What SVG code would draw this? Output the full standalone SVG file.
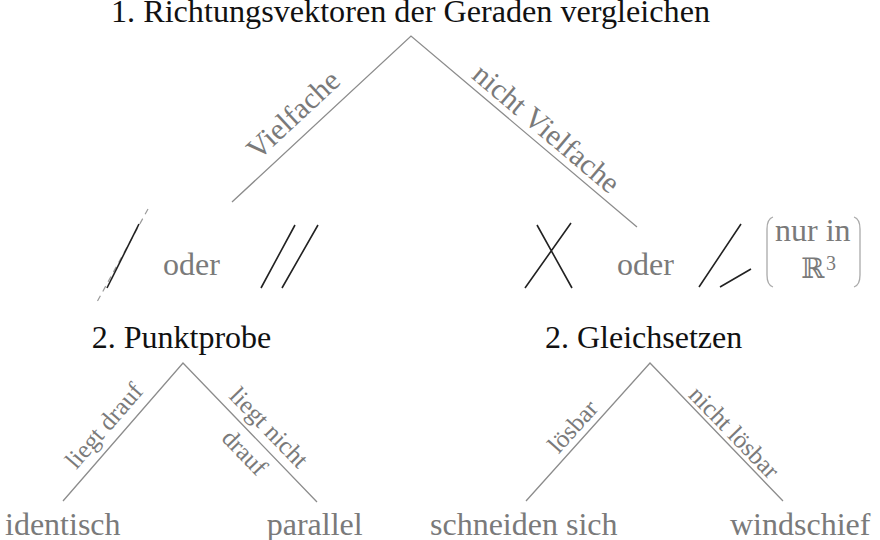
<svg xmlns="http://www.w3.org/2000/svg" width="880" height="540" viewBox="0 0 880 540">
<style>
text { font-family: "Liberation Serif", "DejaVu Serif", serif; }
.h { font-size: 32px; fill: #111; }
.g { font-size: 32px; fill: #7a7a7a; }
.lbl { font-size: 30px; fill: #7a7a7a; text-anchor: middle; }
.lbs { font-size: 25px; fill: #7a7a7a; text-anchor: middle; }
.edge { stroke: #8c8c8c; stroke-width: 1.3; fill: none; }
.sym { stroke: #222; stroke-width: 1.6; fill: none; }
.dash { stroke: #9a9a9a; stroke-width: 1.2; stroke-dasharray: 6 5; fill: none; }
.paren { stroke: #aaa; stroke-width: 1.3; fill: none; }
</style>
<rect width="880" height="540" fill="#fff"/>
<g id="connectors">
  <path class="edge" d="M232 202 L411 36 L637 227"/>
  <path class="edge" d="M63 501 L183 363 L317 502"/>
  <path class="edge" d="M526 501 L650 363 L783 501"/>
  <text class="lbl" transform="translate(300,122) rotate(-42.8)">Vielfache</text>
  <text class="lbl" transform="translate(540,136) rotate(40.2)">nicht Vielfache</text>
  <text class="lbs" transform="translate(110.2,431.1) rotate(-49)">liegt drauf</text>
  <text class="lbs" transform="translate(263,433.3) rotate(46)">liegt nicht</text>
  <text class="lbs" transform="translate(238.7,458.1) rotate(46)">drauf</text>
  <text class="lbs" transform="translate(579,431.9) rotate(-48)">lösbar</text>
  <text class="lbs" transform="translate(728.2,438.1) rotate(46)">nicht lösbar</text>
</g>
<g id="root">
  <text class="h" x="111" y="22" textLength="599" lengthAdjust="spacingAndGlyphs">1. Richtungsvektoren der Geraden vergleichen</text>
</g>
<g id="case-parallel-identisch">
  <path class="dash" d="M148 209 L97 302"/>
  <path class="sym" d="M139 224 L107 288"/>
  <text class="g" x="163" y="275">oder</text>
  <path class="sym" d="M295 225 L261 288 M318 225 L282 288"/>
</g>
<g id="case-schneiden-windschief">
  <path class="sym" d="M537 225 L572 288 M571 223 L525 288"/>
  <text class="g" x="617" y="275">oder</text>
  <path class="sym" d="M741 224 L699 287 M751 269 L720 287"/>
  <path class="paren" d="M773 217 Q767 219 767 229 L767 275 Q767 285 773 287"/>
  <path class="paren" d="M854 217 Q860 219 860 229 L860 275 Q860 285 854 287"/>
  <text class="g" x="775" y="241">nur in</text>
  <text class="g" x="801" y="278" style="font-size:28px">ℝ</text>
  <text class="g" x="826" y="270" style="font-size:20px">3</text>
</g>
<g id="punktprobe">
  <text class="h" x="91.7" y="348">2. Punktprobe</text>
</g>
<g id="gleichsetzen">
  <text class="h" x="545" y="348">2. Gleichsetzen</text>
</g>
<g id="identisch"><text class="g" x="5" y="535">identisch</text></g>
<g id="parallel"><text class="g" x="266.7" y="535">parallel</text></g>
<g id="schneiden-sich"><text class="g" x="430" y="535">schneiden sich</text></g>
<g id="windschief"><text class="g" x="730" y="535">windschief</text></g>
</svg>
